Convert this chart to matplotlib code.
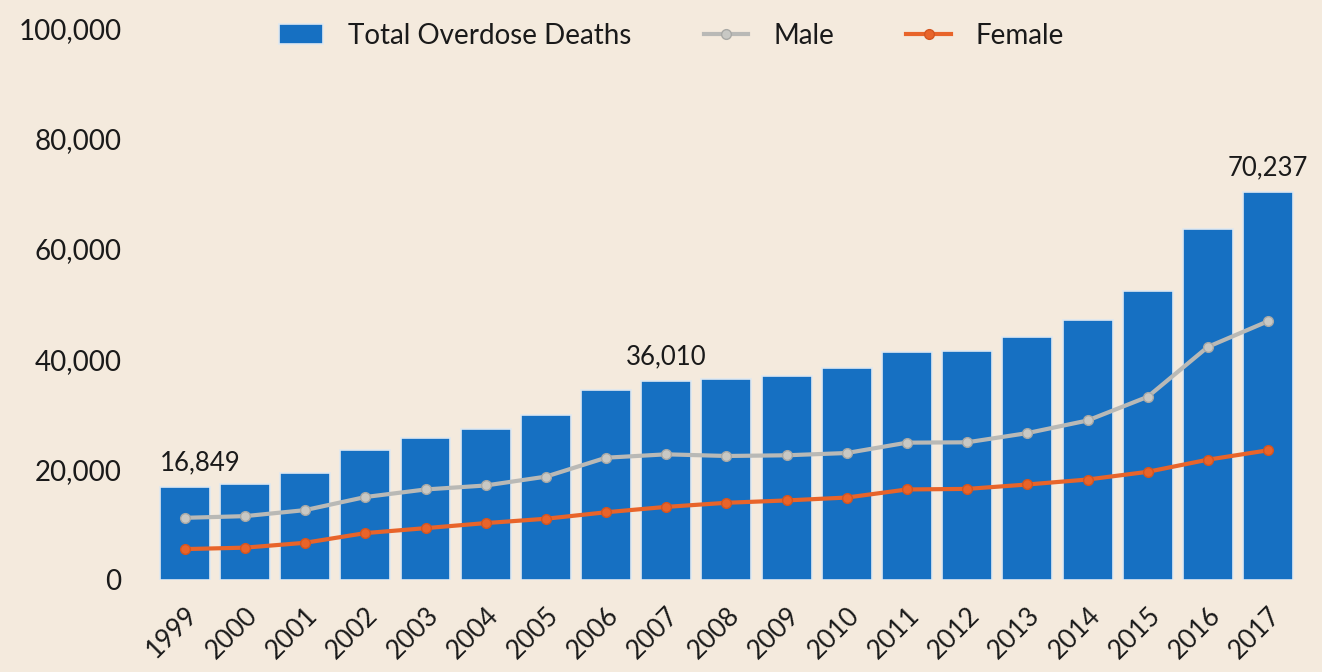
import matplotlib.pyplot as plt
from matplotlib.ticker import FuncFormatter

years = [str(y) for y in range(1999, 2018)]
total = [16849, 17415, 19394, 23518, 25785, 27424, 29813, 34425, 36010, 36450,
         37004, 38329, 41340, 41502, 43982, 47055, 52404, 63632, 70237]
male = [11258, 11563, 12658, 15028, 16399, 17120, 18724, 22156, 22767, 22468,
        22593, 23006, 24883, 24945, 26616, 28900, 33200, 42249, 46900]
female = [5591, 5852, 6736, 8490, 9386, 10304, 11089, 12269, 13243, 13982,
          14411, 14934, 16400, 16500, 17300, 18200, 19600, 21800, 23500]
labelled = {0: "16,849", 8: "36,010", 18: "70,237"}

plt.rcParams['font.family'] = ['Lato', 'DejaVu Sans']
bg = '#f4eadd'
ink = '#1a1a1a'

fig = plt.figure(figsize=(13.22, 6.72), dpi=100, facecolor=bg)
ax = fig.add_axes([0.117, 0.137, 0.865, 0.821])
ax.set_facecolor(bg)

x = range(len(years))
bars = ax.bar(x, total, width=0.83, color='#1670c2', edgecolor='#dfe8f0',
              linewidth=1.2, label='Total Overdose Deaths', zorder=2)
lm, = ax.plot(x, male, color='#b9b9b6', lw=3, marker='o', ms=7, mfc='#c8c8c4',
              mec='#a9a9a6', label='Male', zorder=3)
lf, = ax.plot(x, female, color='#e8642a', lw=3, marker='o', ms=7, mfc='#e8642a',
              mec='#d45520', label='Female', zorder=3)

for i, txt in labelled.items():
    dx = 0.25 if i == 0 else 0
    ax.text(i + dx, total[i] + 2200, txt, ha='center', va='bottom', fontsize=18.5,
            color=ink)

ax.set_xlim(-0.5, 18.5)
ax.set_ylim(0, 100000)
ax.set_yticks(range(0, 100001, 20000))
ax.yaxis.set_major_formatter(FuncFormatter(lambda v, p: f"{int(v):,}"))
ax.set_xticks(list(x))
ax.set_xticklabels(years, rotation=45, ha='right', rotation_mode='anchor')
ax.tick_params(axis='y', length=0, pad=24, labelsize=20, labelcolor=ink)
ax.tick_params(axis='x', length=0, pad=16, labelsize=19, labelcolor=ink)
for s in ax.spines.values():
    s.set_visible(False)

fig.legend([bars, lm, lf], ['Total Overdose Deaths', 'Male', 'Female'],
           loc='center', bbox_to_anchor=(0.508, 0.947), ncol=3, frameon=False,
           fontsize=20, handlelength=1.6, columnspacing=2.6, handletextpad=0.9,
           labelcolor=ink)

fig.savefig('out.png', dpi=100, facecolor=bg)
